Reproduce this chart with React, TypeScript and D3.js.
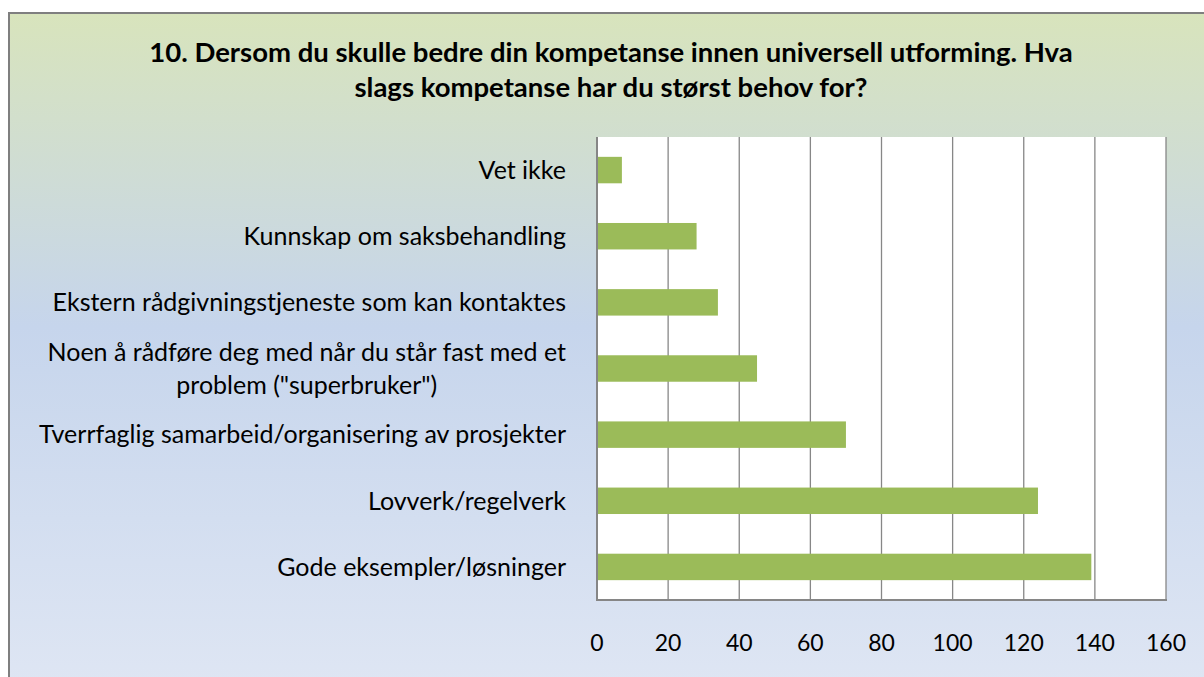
import React, { useEffect, useRef } from "react";
import * as d3 from "d3";

const title = [
  "10. Dersom du skulle bedre din kompetanse innen universell utforming. Hva",
  "slags kompetanse har du størst behov for?",
];
const categories = [
  "Vet ikke",
  "Kunnskap om saksbehandling",
  "Ekstern rådgivningstjeneste som kan kontaktes",
  'Noen å rådføre deg med når du står fast med et problem ("superbruker")',
  "Tverrfaglig samarbeid/organisering av prosjekter",
  "Lovverk/regelverk",
  "Gode eksempler/løsninger",
];
const values = [7, 28, 34, 45, 70, 124, 139];
const ticks = [0, 20, 40, 60, 80, 100, 120, 140, 160];

const W = 1204;
const H = 677;
const FONT = "Lato, 'Open Sans', sans-serif";

export default function App() {
  const ref = useRef<SVGSVGElement>(null);

  useEffect(() => {
    const svg = d3.select(ref.current);
    svg.selectAll("*").remove();

    const defs = svg.append("defs");
    const grad = defs
      .append("linearGradient")
      .attr("id", "bg")
      .attr("x1", 0)
      .attr("y1", 0)
      .attr("x2", 0)
      .attr("y2", 1);
    grad.append("stop").attr("offset", "0%").attr("stop-color", "#d8e4bc");
    grad.append("stop").attr("offset", "45%").attr("stop-color", "#c6d5ec");
    grad.append("stop").attr("offset", "100%").attr("stop-color", "#e0e7f4");

    svg
      .append("rect")
      .attr("x", 9)
      .attr("y", 13)
      .attr("width", W + 20)
      .attr("height", H + 20)
      .attr("fill", "url(#bg)")
      .attr("stroke", "#7f7f7f")
      .attr("stroke-width", 2);

    const x = d3.scaleLinear().domain([0, 160]).range([597, 1166]);
    const y = d3
      .scaleBand<string>()
      .domain(categories)
      .range([137, 600])
      .paddingInner(0.6)
      .paddingOuter(0.3);

    // plot area
    svg
      .append("rect")
      .attr("x", x(0))
      .attr("y", 137)
      .attr("width", x(160) - x(0))
      .attr("height", 600 - 137)
      .attr("fill", "#ffffff");

    // gridlines
    svg
      .append("g")
      .selectAll("line")
      .data(ticks)
      .join("line")
      .attr("x1", (d) => x(d))
      .attr("x2", (d) => x(d))
      .attr("y1", 137)
      .attr("y2", 600)
      .attr("stroke", "#878787")
      .attr("stroke-width", 1.3);

    // bars
    svg
      .append("g")
      .selectAll("rect")
      .data(values)
      .join("rect")
      .attr("x", x(0))
      .attr("y", (_d, i) => y(categories[i])!)
      .attr("width", (d) => x(d) - x(0))
      .attr("height", y.bandwidth())
      .attr("fill", "#9bbb59");

    // axis lines
    svg
      .append("line")
      .attr("x1", x(0))
      .attr("x2", x(0))
      .attr("y1", 137)
      .attr("y2", 601)
      .attr("stroke", "#868686")
      .attr("stroke-width", 2);
    svg
      .append("line")
      .attr("x1", x(0) - 1)
      .attr("x2", x(160) + 1)
      .attr("y1", 600)
      .attr("y2", 600)
      .attr("stroke", "#868686")
      .attr("stroke-width", 2);

    // tick labels
    svg
      .append("g")
      .selectAll("text")
      .data(ticks)
      .join("text")
      .attr("x", (d) => x(d))
      .attr("y", 651)
      .attr("text-anchor", "middle")
      .attr("font-family", FONT)
      .attr("font-size", 23)
      .attr("fill", "#000")
      .text((d) => String(d));

    // category labels with wrapping
    const rightEdge = 566;
    const maxW = 540;
    const lineH = 33;
    const lg = svg.append("g");
    categories.forEach((cat) => {
      const cy = y(cat)! + y.bandwidth() / 2;
      const t = lg
        .append("text")
        .attr("font-family", FONT)
        .attr("font-size", 25)
        .attr("fill", "#000");
      const words = cat.split(" ");
      const lines: string[] = [];
      let cur = "";
      const probe = t.append("tspan");
      words.forEach((w) => {
        const test = cur ? cur + " " + w : w;
        probe.text(test);
        if ((probe.node() as SVGTSpanElement).getComputedTextLength() > maxW && cur) {
          lines.push(cur);
          cur = w;
        } else {
          cur = test;
        }
      });
      lines.push(cur);
      probe.remove();
      if (lines.length === 1) {
        t.attr("x", rightEdge)
          .attr("y", cy)
          .attr("dy", "0.35em")
          .attr("text-anchor", "end")
          .text(lines[0]);
      } else {
        const widths = lines.map((l) => {
          const p = t.append("tspan").text(l);
          const wv = (p.node() as SVGTSpanElement).getComputedTextLength();
          p.remove();
          return wv;
        });
        const mw = Math.max(...widths);
        const cx = rightEdge - mw / 2;
        t.attr("text-anchor", "middle");
        const y0 = cy - ((lines.length - 1) * lineH) / 2;
        lines.forEach((l, i) => {
          t.append("tspan")
            .attr("x", cx)
            .attr("y", y0 + i * lineH)
            .attr("dy", "0.35em")
            .text(l);
        });
      }
    });

    // title
    svg
      .append("g")
      .selectAll("text")
      .data(title)
      .join("text")
      .attr("x", 611)
      .attr("y", (_d, i) => 62 + i * 35)
      .attr("text-anchor", "middle")
      .attr("font-family", FONT)
      .attr("font-weight", "bold")
      .attr("font-size", 27.5)
      .attr("fill", "#000")
      .text((d) => d);
  }, []);

  return (
    <svg
      ref={ref}
      width={W}
      height={H}
      style={{ position: "absolute", left: 0, top: 0, display: "block" }}
    />
  );
}
